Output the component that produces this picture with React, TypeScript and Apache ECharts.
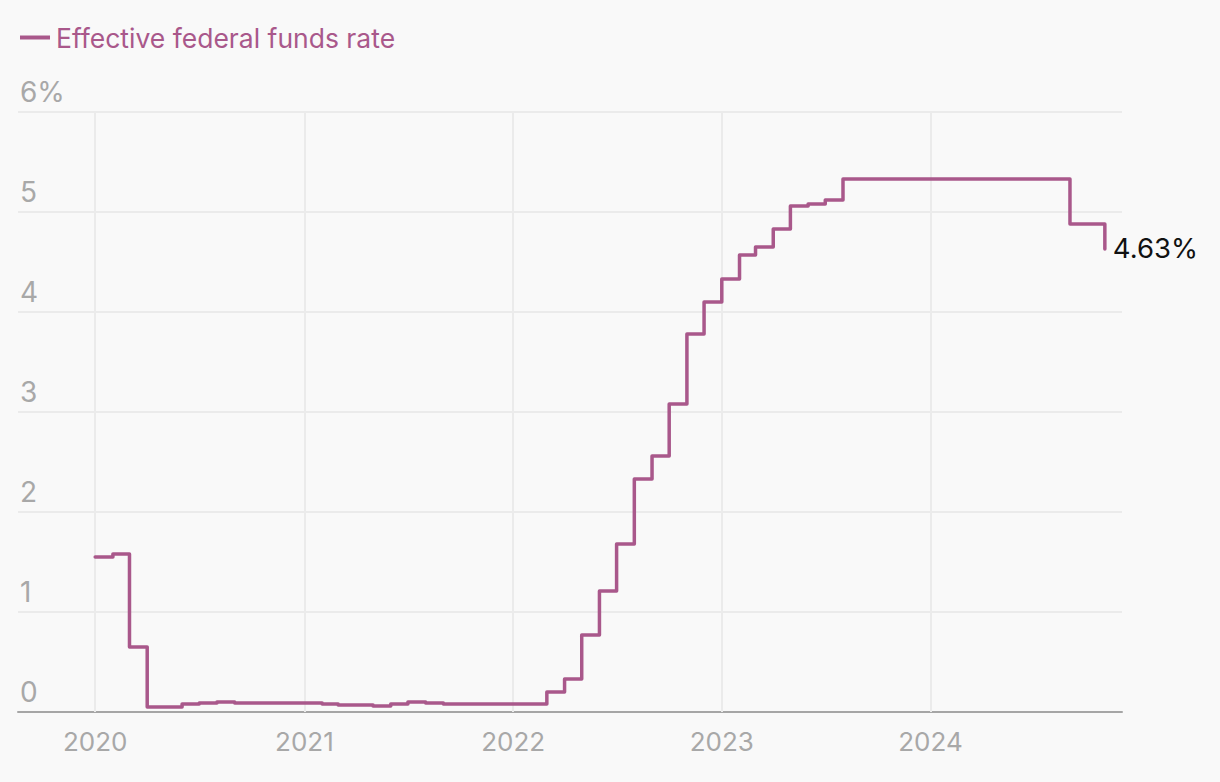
import React, { useEffect, useRef } from "react";
import * as echarts from "echarts";

const months: string[] = [
  "2020-01-01","2020-02-01","2020-03-01","2020-04-01","2020-05-01","2020-06-01","2020-07-01","2020-08-01","2020-09-01","2020-10-01","2020-11-01","2020-12-01",
  "2021-01-01","2021-02-01","2021-03-01","2021-04-01","2021-05-01","2021-06-01","2021-07-01","2021-08-01","2021-09-01","2021-10-01","2021-11-01","2021-12-01",
  "2022-01-01","2022-02-01","2022-03-01","2022-04-01","2022-05-01","2022-06-01","2022-07-01","2022-08-01","2022-09-01","2022-10-01","2022-11-01","2022-12-01",
  "2023-01-01","2023-02-01","2023-03-01","2023-04-01","2023-05-01","2023-06-01","2023-07-01","2023-08-01","2023-09-01","2023-10-01","2023-11-01","2023-12-01",
  "2024-01-01","2024-02-01","2024-03-01","2024-04-01","2024-05-01","2024-06-01","2024-07-01","2024-08-01","2024-09-01","2024-10-01","2024-11-01",
];

const rates: number[] = [
  1.55, 1.58, 0.65, 0.05, 0.05, 0.08, 0.09, 0.10, 0.09, 0.09, 0.09, 0.09,
  0.09, 0.08, 0.07, 0.07, 0.06, 0.08, 0.10, 0.09, 0.08, 0.08, 0.08, 0.08,
  0.08, 0.08, 0.20, 0.33, 0.77, 1.21, 1.68, 2.33, 2.56, 3.08, 3.78, 4.10,
  4.33, 4.57, 4.65, 4.83, 5.06, 5.08, 5.12, 5.33, 5.33, 5.33, 5.33, 5.33,
  5.33, 5.33, 5.33, 5.33, 5.33, 5.33, 5.33, 5.33, 4.88, 4.88, 4.63,
];

const yearTicks: string[] = ["2020-01-01", "2021-01-01", "2022-01-01", "2023-01-01", "2024-01-01"];
const seriesName = "Effective federal funds rate";

const LINE_COLOR = "#a9588b";
const GRID_COLOR = "#ebebeb";
const LABEL_COLOR = "#a8a8a8";
const FONT = "Inter, 'Liberation Sans', sans-serif";

const ts = (d: string) => {
  const [y, m, day] = d.split("-").map(Number);
  return Date.UTC(y, m - 1, day);
};

export default function App() {
  const ref = useRef<HTMLDivElement>(null);

  useEffect(() => {
    if (!ref.current) return;
    const chart = echarts.init(ref.current, undefined, { renderer: "svg" });
    const data = months.map((m, i) => [ts(m), rates[i]]);
    const yearTs = yearTicks.map(ts);

    chart.setOption({
      animation: false,
      backgroundColor: "#f9f9f9",
      textStyle: { fontFamily: FONT },
      legend: {
        data: [seriesName],
        left: 20,
        top: 24,
        padding: 0,
        icon: "rect",
        itemWidth: 30,
        itemHeight: 4,
        itemGap: 8,
        textStyle: { color: LINE_COLOR, fontSize: 26.5, fontFamily: FONT, padding: [0, 0, 0, 1] },
      },
      grid: { left: 18, right: 98, top: 112, bottom: 70, containLabel: false },
      xAxis: {
        type: "value",
        min: ts("2019-08-19"),
        max: ts("2024-12-01"),
        axisLine: { show: true, onZero: false, lineStyle: { color: "#a6a6a6", width: 2 } },
        axisTick: { show: false },
        splitLine: { show: false },
        axisLabel: {
          customValues: yearTs,
          color: LABEL_COLOR,
          fontSize: 26,
          fontFamily: FONT,
          margin: 16,
          formatter: (v: number) => String(new Date(v).getUTCFullYear()),
        },
      },
      yAxis: {
        type: "value",
        min: 0,
        max: 6,
        interval: 1,
        axisLine: { show: false },
        axisTick: { show: false },
        splitLine: { show: true, lineStyle: { color: GRID_COLOR, width: 2 } },
        axisLabel: {
          inside: true,
          margin: 2,
          verticalAlign: "bottom",
          padding: [0, 0, 6, 0],
          color: LABEL_COLOR,
          fontSize: 28,
          fontFamily: FONT,
          formatter: (v: number) => (v === 6 ? "6%" : String(v)),
        },
      },
      series: [
        {
          name: "grid-helper",
          type: "line",
          data: data,
          showSymbol: false,
          silent: true,
          lineStyle: { width: 0, opacity: 0 },
          z: 1,
          markLine: {
            silent: true,
            z: 1,
            symbol: ["none", "none"],
            label: { show: false },
            lineStyle: { color: GRID_COLOR, width: 2, type: "solid" },
            data: yearTs.map((t) => ({ xAxis: t })),
          },
        },
        {
          name: seriesName,
          type: "line",
          step: "end",
          data: data,
          showSymbol: false,
          z: 4,
          lineStyle: { color: LINE_COLOR, width: 3.5, cap: "round", join: "round" },
          itemStyle: { color: LINE_COLOR },
          endLabel: {
            show: true,
            distance: 8,
            offset: [0, -1],
            color: "#111",
            fontSize: 27.5,
            fontFamily: FONT,
            formatter: (p: any) => p.value[1].toFixed(2) + "%",
          },
        },
      ],
    });

    return () => chart.dispose();
  }, []);

  return (
    <div
      ref={ref}
      style={{ position: "fixed", left: 0, top: 0, width: 1220, height: 782, background: "#f9f9f9" }}
    />
  );
}
